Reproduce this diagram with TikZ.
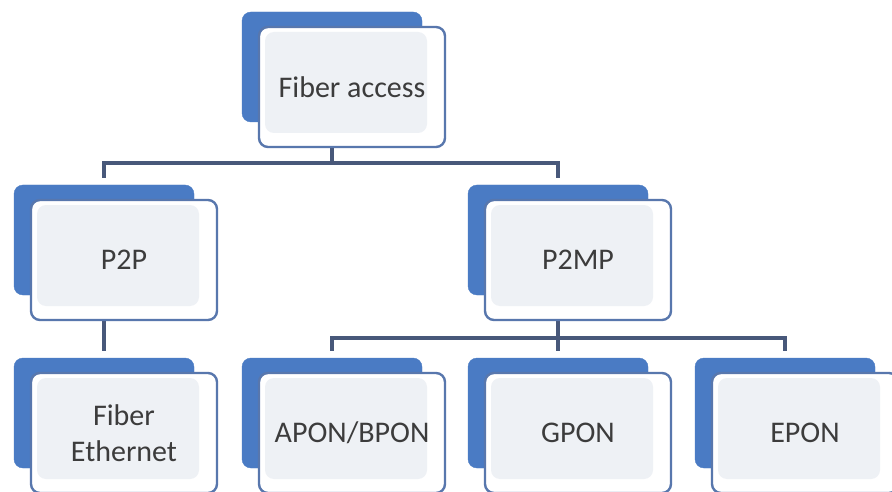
\documentclass[tikz,border=0pt]{standalone}
\usepackage{fontspec}
\setmainfont{Carlito}
\usetikzlibrary{calc,backgrounds}
\definecolor{backblue}{HTML}{4A7BC4}
\definecolor{frameblue}{HTML}{5877AD}
\definecolor{panelgray}{HTML}{EEF1F5}
\definecolor{linkgray}{HTML}{48587A}
\definecolor{textgray}{HTML}{3C3C3C}
\tikzset{
  backcard/.style={draw=backblue, fill=backblue, rounded corners=9pt,
    minimum width=180pt, minimum height=110pt, inner sep=0pt},
  frontcard/.style={draw=frameblue, line width=2.4pt, fill=white, rounded corners=9pt,
    minimum width=186pt, minimum height=120pt, inner sep=0pt,
    text=textgray, align=center, font=\fontsize{30}{36}\selectfont,
    path picture={\fill[panelgray]
      ([xshift=6pt,yshift=-5pt]path picture bounding box.north west) rectangle
      ([xshift=-18pt,yshift=14pt]path picture bounding box.south east);}},
  link/.style={draw=linkgray, line width=3.2pt}
}
% card: back panel name, front panel name, back panel top-left corner, label
\newcommand{\orgcard}[4]{%
  \node[backcard] (#1) at ($(#3)+(90,55)$) {};
  \node[frontcard] (#2) at ($(#3)+(110,75)$) {#4};
}
\begin{document}
\begin{tikzpicture}[x=1pt,y=-1pt]
  \useasboundingbox (0,0) rectangle (892,492);
  \coordinate (busA) at (0,163);
  \coordinate (busB) at (0,338);

  % cards
  \orgcard{topB}{top}{242,12}{Fiber access}
  \orgcard{p2pB}{p2p}{14,185}{P2P}
  \orgcard{p2mpB}{p2mp}{468,185}{P2MP}
  \orgcard{feB}{fe}{14,358}{Fiber\\Ethernet}
  \orgcard{aponB}{apon}{242,358}{APON/BPON}
  \orgcard{gponB}{gpon}{468,358}{GPON}
  \orgcard{eponB}{epon}{695,358}{EPON}

  % page and connectors, drawn beneath the cards
  \begin{scope}[on background layer]
    \fill[white] (0,0) rectangle (892,492);
    \draw[link] (topB |- top.south) -- (topB |- busA) -| ([yshift=7pt]p2pB.north);
    \draw[link] (topB |- busA) -| ([yshift=7pt]p2mpB.north);
    \draw[link] (p2pB |- p2p.south) -- ([yshift=7pt]feB.north);
    \draw[link] (p2mpB |- p2mp.south) -- (p2mpB |- busB) -| ([yshift=7pt]aponB.north);
    \draw[link] (p2mpB |- busB) -- ([yshift=7pt]gponB.north);
    \draw[link] (p2mpB |- busB) -| ([yshift=7pt]eponB.north);
  \end{scope}
\end{tikzpicture}
\end{document}
